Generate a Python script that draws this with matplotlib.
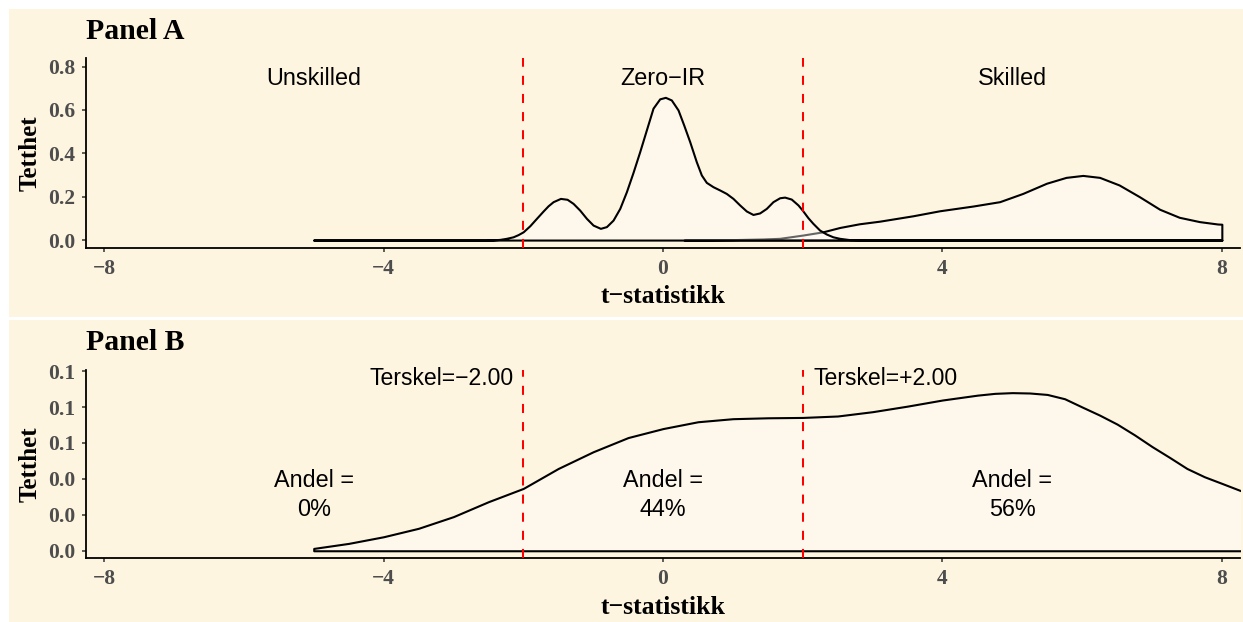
import matplotlib
matplotlib.use("Agg")
import matplotlib.pyplot as plt
from matplotlib.patches import Rectangle
from matplotlib.ticker import FormatStrFormatter

# ---------------- data ----------------
zero_t = [-5.0, -3.0, -2.671, -2.528, -2.432, -2.337, -2.242, -2.146, -2.075, -2.002, -1.907,
          -1.812, -1.716, -1.645, -1.573, -1.468, -1.373, -1.287, -1.192, -1.096, -1.001, -0.896,
          -0.810, -0.715, -0.619, -0.524, -0.429, -0.333, -0.238, -0.143, -0.047, 0.034, 0.119,
          0.215, 0.296, 0.382, 0.477, 0.549, 0.620, 0.716, 0.811, 0.906, 1.002, 1.097, 1.193,
          1.288, 1.383, 1.479, 1.574, 1.670, 1.741, 1.836, 1.932, 1.994, 2.075, 2.146, 2.242,
          2.337, 2.432, 2.528, 2.671, 2.9, 8.0]
zero_d = [0.0, 0.0, 0.0, 0.0, 0.001, 0.003, 0.008, 0.015, 0.025, 0.038, 0.066,
          0.100, 0.134, 0.158, 0.177, 0.192, 0.188, 0.169, 0.138, 0.100, 0.069, 0.054,
          0.062, 0.092, 0.146, 0.223, 0.312, 0.408, 0.508, 0.608, 0.651, 0.658, 0.646,
          0.600, 0.531, 0.454, 0.361, 0.300, 0.266, 0.246, 0.231, 0.215, 0.192, 0.162, 0.134,
          0.118, 0.125, 0.146, 0.177, 0.195, 0.198, 0.189, 0.162, 0.138, 0.103, 0.077, 0.046,
          0.028, 0.015, 0.008, 0.002, 0.0, 0.0]

skill_t = [0.3, 0.7, 1.0, 1.43, 1.67, 2.0, 2.29, 2.53, 2.81, 3.10, 3.58, 3.96, 4.44, 4.82, 5.15,
           5.49, 5.77, 6.01, 6.25, 6.53, 6.82, 7.11, 7.39, 7.68, 7.94, 8.0]
skill_d = [0.0, 0.001, 0.002, 0.005, 0.008, 0.023, 0.038, 0.058, 0.075, 0.087, 0.112, 0.135,
           0.157, 0.177, 0.215, 0.262, 0.289, 0.298, 0.289, 0.254, 0.200, 0.142, 0.105, 0.085,
           0.074, 0.073]

all_t = [-5.0, -4.5, -4.0, -3.5, -3.0, -2.5, -2.0, -1.5, -1.0, -0.5, 0.0, 0.5, 1.0, 1.5, 2.0,
         2.5, 3.0, 3.5, 4.0, 4.5, 4.75, 5.0, 5.25, 5.5, 5.75, 6.0, 6.25, 6.5, 6.75, 7.0, 7.25,
         7.5, 7.75, 8.0, 8.5]
all_d = [0.0013, 0.0041, 0.0078, 0.0125, 0.019, 0.0273, 0.0347, 0.0458, 0.0551, 0.063, 0.068,
         0.0718, 0.0735, 0.074, 0.0742, 0.075, 0.0774, 0.0805, 0.0839, 0.0866, 0.0876, 0.088,
         0.0878, 0.087, 0.0846, 0.080, 0.0755, 0.0705, 0.0645, 0.058, 0.052, 0.0458, 0.0412,
         0.0375, 0.030]

thresholds = [-2.0, 2.0]
groups = ["Unskilled", "Zero\u2212IR", "Skilled"]
group_x = [-5, 0, 5]
shares = ["0%", "44%", "56%"]
thr_labels = ["Terskel=\u22122.00", "Terskel=+2.00"]
xticks = [-8, -4, 0, 4, 8]
yticks_a = [0.0, 0.2, 0.4, 0.6, 0.8]
yticks_b = [0.0, 0.02, 0.04, 0.06, 0.08, 0.10]

# ---------------- style ----------------
BG = "#FEF5E0"
SERIF = "Liberation Serif"
SANS = "Liberation Sans"
W, H = 1243, 622
fig = plt.figure(figsize=(W / 100, H / 100), dpi=100, facecolor="white")

def px_rect(x0, y0, x1, y1):
    return Rectangle((x0 / W, 1 - y1 / H), (x1 - x0) / W, (y1 - y0) / H,
                     transform=fig.transFigure, facecolor=BG, edgecolor="none", zorder=-10)

fig.patches.append(px_rect(9, 9, W, 316.5))
fig.patches.append(px_rect(9, 320, W, H))

def make_ax(top, bottom):
    ax = fig.add_axes([86 / W, 1 - bottom / H, (1240 - 86) / W, (bottom - top) / H])
    ax.set_facecolor("none")
    for s in ["top", "right"]:
        ax.spines[s].set_visible(False)
    for s in ["left", "bottom"]:
        ax.spines[s].set_linewidth(1.3)
        ax.spines[s].set_color("black")
    ax.tick_params(axis="both", length=3, width=1.1, color="#333333", labelcolor="#4D4D4D",
                   labelsize=15.5, pad=5)
    ax.set_xlim(-8.26, 8.26)
    ax.set_xticks(xticks)
    return ax

fill_c = (1, 1, 1, 0.4)

# ---------------- Panel A ----------------
axA = make_ax(58.3, 248.3)
axA.set_ylim(-0.038, 0.838)
axA.set_yticks(yticks_a)
axA.yaxis.set_major_formatter(FormatStrFormatter("%.1f"))
axA.fill_between(skill_t, 0, skill_d, facecolor=fill_c, edgecolor="black", linewidth=1.5,
                 joinstyle="round", zorder=2)
axA.fill_between(zero_t, 0, zero_d, facecolor=fill_c, edgecolor="black", linewidth=1.5,
                 joinstyle="round", zorder=3)
for t in thresholds:
    axA.axvline(t, color="#FF0000", linewidth=1.45, linestyle=(0, (4.5, 4.5)), zorder=4)
for g, gx in zip(groups, group_x):
    axA.text(gx, 0.743, g, ha="center", va="center", fontsize=16.8, family=SANS, color="black")
axA.set_xlabel("t\u2212statistikk", fontsize=18.5, family=SERIF, fontweight="bold")
axA.set_ylabel("Tetthet", fontsize=18, family=SERIF, fontweight="bold")
axA.xaxis.set_label_coords(0.5, -0.193)
axA.yaxis.set_label_coords(-0.0387, 0.5)

# ---------------- Panel B ----------------
axB = make_ax(370, 558.3)
axB.set_ylim(-0.0042, 0.1006)
axB.set_yticks(yticks_b)
axB.yaxis.set_major_formatter(FormatStrFormatter("%.1f"))
axB.fill_between(all_t, 0, all_d, facecolor=fill_c, edgecolor="black", linewidth=1.5,
                 joinstyle="round", zorder=2)
for t in thresholds:
    axB.axvline(t, color="#FF0000", linewidth=1.45, linestyle=(0, (4.5, 4.5)), zorder=4)
axB.text(thresholds[0] - 0.14, 0.0959, thr_labels[0], ha="right", va="center", fontsize=16.6,
         family=SANS)
axB.text(thresholds[1] + 0.15, 0.0959, thr_labels[1], ha="left", va="center", fontsize=16.6,
         family=SANS)
for s, gx in zip(shares, group_x):
    axB.text(gx, 0.031, "Andel =\n" + s, ha="center", va="center", fontsize=16.8, family=SANS,
             linespacing=1.3)
axB.set_xlabel("t\u2212statistikk", fontsize=18.5, family=SERIF, fontweight="bold")
axB.set_ylabel("Tetthet", fontsize=18, family=SERIF, fontweight="bold")
axB.xaxis.set_label_coords(0.5, -0.199)
axB.yaxis.set_label_coords(-0.0387, 0.5)

for ax in (axA, axB):
    for lab in ax.get_xticklabels() + ax.get_yticklabels():
        lab.set_fontfamily(SERIF)
        lab.set_fontweight("bold")

fig.text(86.5 / W, 1 - 31.7 / H, "Panel A", ha="left", va="center", fontsize=21.4, family=SERIF,
         fontweight="bold")
fig.text(86.5 / W, 1 - 342.3 / H, "Panel B", ha="left", va="center", fontsize=21.4, family=SERIF,
         fontweight="bold")

fig.savefig("out.png", dpi=100, facecolor="white")
